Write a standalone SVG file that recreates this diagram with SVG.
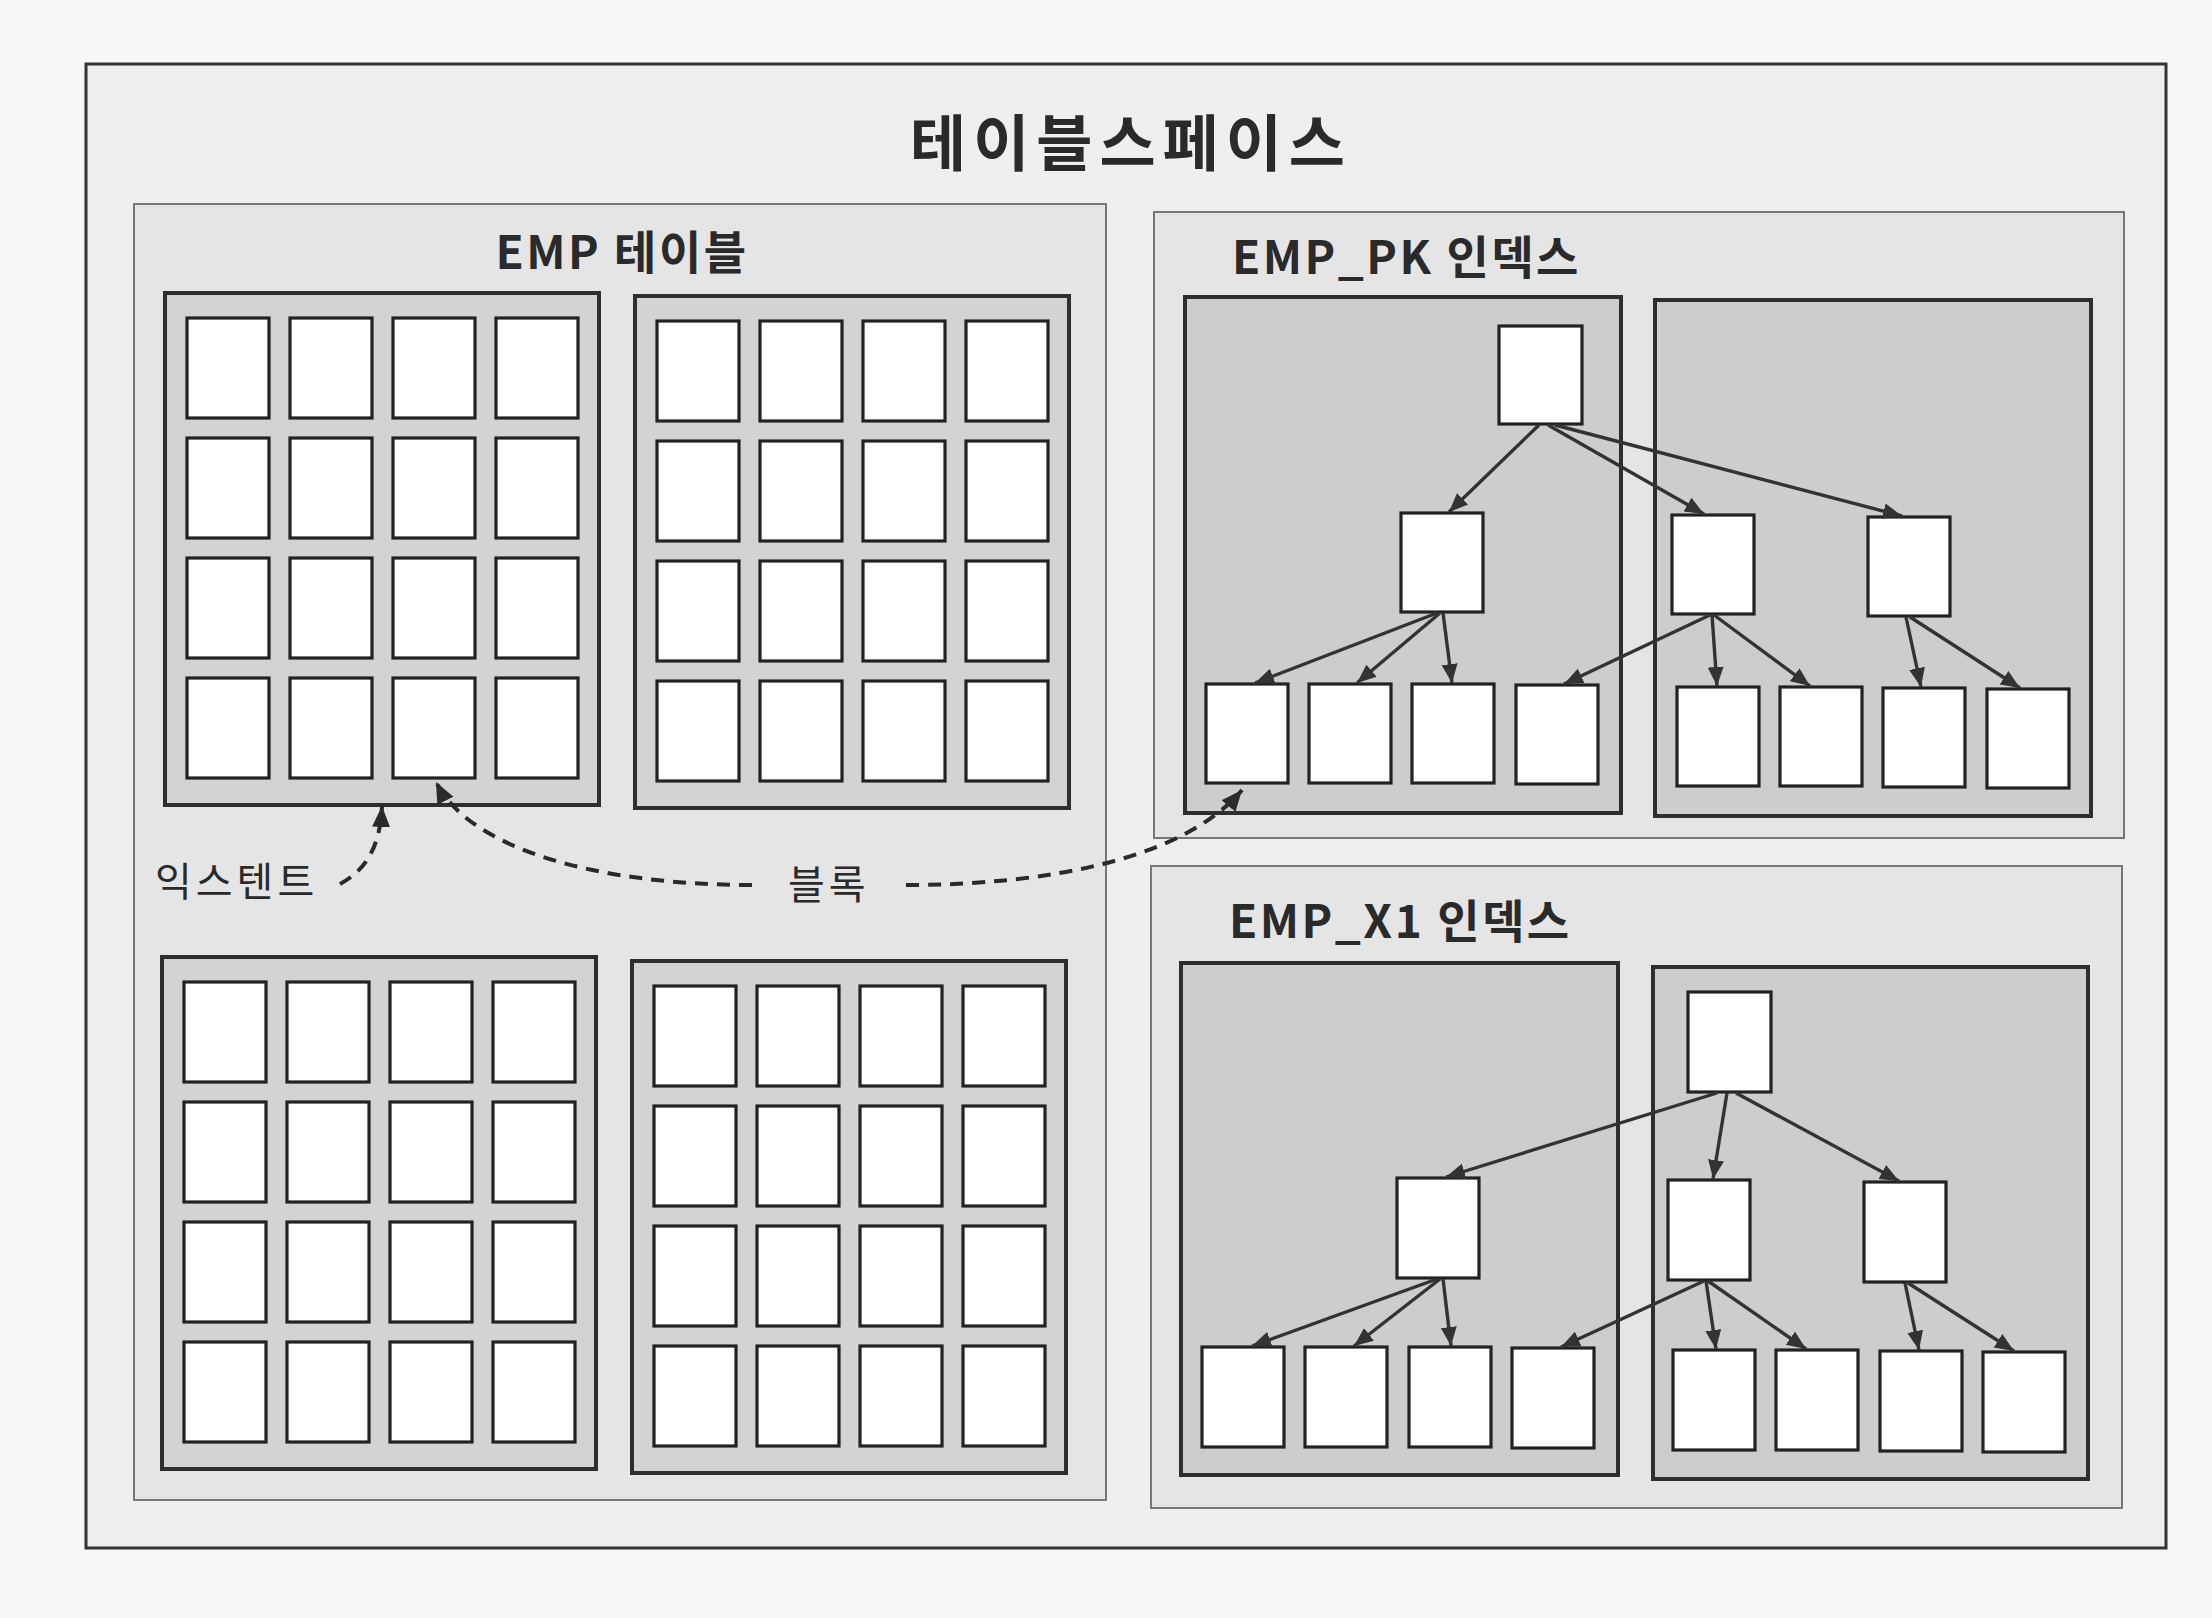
<svg xmlns="http://www.w3.org/2000/svg" width="2212" height="1618" viewBox="0 0 2212 1618">
<style>
  .frame{fill:#efefef;stroke:#333;stroke-width:3}
  .panel{fill:#e5e5e5;stroke:#777;stroke-width:2}
  .ext{fill:#d3d3d3;stroke:#2e2e2e;stroke-width:4}
  .iext{fill:#cdcdcd;stroke:#2e2e2e;stroke-width:4}
  .blk{fill:#ffffff;stroke:#222;stroke-width:3.2}
  .node{fill:#ffffff;stroke:#222;stroke-width:3.2}
  .t{font-family:"Noto Sans CJK KR","Noto Sans",sans-serif;fill:#2a2a2a}
  .title{font-size:61px;font-weight:700;letter-spacing:7px}
  .lbl{font-size:46px;font-weight:700;letter-spacing:2.5px}
  .note{font-size:40px;font-weight:400;letter-spacing:4px}
  .arr{fill:none;stroke:#333;stroke-width:3.4;marker-end:url(#ah)}
  .dash{fill:none;stroke:#2a2a2a;stroke-width:4;stroke-dasharray:13 9;marker-end:url(#ahd)}
</style>
<defs>
  <marker id="ah" markerUnits="userSpaceOnUse" markerWidth="20" markerHeight="18" refX="19" refY="9" orient="auto">
    <path d="M0,1 L19,9 L0,17 Z" fill="#333"/>
  </marker>
  <marker id="ahd" markerUnits="userSpaceOnUse" markerWidth="22" markerHeight="20" refX="21" refY="10" orient="auto">
    <path d="M0,1 L21,10 L0,19 Z" fill="#2a2a2a"/>
  </marker>
  <g id="grid">
    <rect class="blk" x="22" y="25" width="82" height="100"/><rect class="blk" x="125" y="25" width="82" height="100"/><rect class="blk" x="228" y="25" width="82" height="100"/><rect class="blk" x="331" y="25" width="82" height="100"/>
    <rect class="blk" x="22" y="145" width="82" height="100"/><rect class="blk" x="125" y="145" width="82" height="100"/><rect class="blk" x="228" y="145" width="82" height="100"/><rect class="blk" x="331" y="145" width="82" height="100"/>
    <rect class="blk" x="22" y="265" width="82" height="100"/><rect class="blk" x="125" y="265" width="82" height="100"/><rect class="blk" x="228" y="265" width="82" height="100"/><rect class="blk" x="331" y="265" width="82" height="100"/>
    <rect class="blk" x="22" y="385" width="82" height="100"/><rect class="blk" x="125" y="385" width="82" height="100"/><rect class="blk" x="228" y="385" width="82" height="100"/><rect class="blk" x="331" y="385" width="82" height="100"/>
  </g>
</defs>
<rect x="0" y="0" width="2212" height="1618" fill="#f7f7f7"/>

<g id="tablespace">
  <rect class="frame" x="86" y="64" width="2080" height="1484"/>
  <text class="t title" x="1131" y="166" text-anchor="middle">테이블스페이스</text>
</g>

<g id="emp-table">
  <rect class="panel" x="134" y="204" width="972" height="1296"/>
  <text class="t lbl" x="622" y="269" text-anchor="middle">EMP 테이블</text>
  <g id="table-extent-1" transform="translate(165,293)"><rect class="ext" x="0" y="0" width="434" height="512"/><use href="#grid"/></g>
  <g id="table-extent-2" transform="translate(635,296)"><rect class="ext" x="0" y="0" width="434" height="512"/><use href="#grid"/></g>
  <g id="table-extent-3" transform="translate(162,957)"><rect class="ext" x="0" y="0" width="434" height="512"/><use href="#grid"/></g>
  <g id="table-extent-4" transform="translate(632,961)"><rect class="ext" x="0" y="0" width="434" height="512"/><use href="#grid"/></g>
</g>

<g id="emp-pk-index">
  <rect class="panel" x="1154" y="212" width="970" height="626"/>
  <text class="t lbl" x="1232" y="274">EMP_PK 인덱스</text>
  <rect class="iext" x="1185" y="297" width="436" height="516"/>
  <rect class="iext" x="1655" y="300" width="436" height="516"/>
  <g id="pk-root"><rect class="node" x="1499" y="326" width="83" height="98"/></g>
  <g id="pk-b1"><rect class="node" x="1401" y="513" width="82" height="99"/></g>
  <g id="pk-b2"><rect class="node" x="1672" y="515" width="82" height="99"/></g>
  <g id="pk-b3"><rect class="node" x="1868" y="517" width="82" height="99"/></g>
  <g id="pk-l1"><rect class="node" x="1206" y="684" width="82" height="99"/></g>
  <g id="pk-l2"><rect class="node" x="1309" y="684" width="82" height="99"/></g>
  <g id="pk-l3"><rect class="node" x="1412" y="684" width="82" height="99"/></g>
  <g id="pk-l4"><rect class="node" x="1516" y="685" width="82" height="99"/></g>
  <g id="pk-l5"><rect class="node" x="1677" y="687" width="82" height="99"/></g>
  <g id="pk-l6"><rect class="node" x="1780" y="687" width="82" height="99"/></g>
  <g id="pk-l7"><rect class="node" x="1883" y="688" width="82" height="99"/></g>
  <g id="pk-l8"><rect class="node" x="1987" y="689" width="82" height="99"/></g>
</g>

<g id="emp-x1-index">
  <rect class="panel" x="1151" y="866" width="971" height="642"/>
  <text class="t lbl" x="1229" y="938">EMP_X1 인덱스</text>
  <rect class="iext" x="1181" y="963" width="437" height="512"/>
  <rect class="iext" x="1653" y="967" width="435" height="512"/>
  <g id="x1-root"><rect class="node" x="1688" y="992" width="83" height="100"/></g>
  <g id="x1-b1"><rect class="node" x="1397" y="1178" width="82" height="100"/></g>
  <g id="x1-b2"><rect class="node" x="1668" y="1180" width="82" height="100"/></g>
  <g id="x1-b3"><rect class="node" x="1864" y="1182" width="82" height="100"/></g>
  <g id="x1-l1"><rect class="node" x="1202" y="1347" width="82" height="100"/></g>
  <g id="x1-l2"><rect class="node" x="1305" y="1347" width="82" height="100"/></g>
  <g id="x1-l3"><rect class="node" x="1409" y="1347" width="82" height="100"/></g>
  <g id="x1-l4"><rect class="node" x="1512" y="1348" width="82" height="100"/></g>
  <g id="x1-l5"><rect class="node" x="1673" y="1350" width="82" height="100"/></g>
  <g id="x1-l6"><rect class="node" x="1776" y="1350" width="82" height="100"/></g>
  <g id="x1-l7"><rect class="node" x="1880" y="1351" width="82" height="100"/></g>
  <g id="x1-l8"><rect class="node" x="1983" y="1352" width="82" height="100"/></g>
</g>

<g id="labels">
  <text class="t note" x="155" y="896">익스텐트</text>
  <text class="t note" x="788" y="899">블록</text>
</g>

<g id="connectors">
  <path class="arr" d="M1539,425 L1449,512"/>
  <path class="arr" d="M1548,425 L1704,514"/>
  <path class="arr" d="M1555,425 L1902,516"/>
  <path class="arr" d="M1437,613 L1255,683"/>
  <path class="arr" d="M1440,613 L1357,683"/>
  <path class="arr" d="M1443,613 L1452,683"/>
  <path class="arr" d="M1710,615 L1564,684"/>
  <path class="arr" d="M1712,615 L1717,686"/>
  <path class="arr" d="M1714,615 L1810,686"/>
  <path class="arr" d="M1906,617 L1921,687"/>
  <path class="arr" d="M1910,617 L2020,688"/>

  <path class="arr" d="M1717,1093 L1446,1177"/>
  <path class="arr" d="M1727,1093 L1713,1179"/>
  <path class="arr" d="M1736,1093 L1899,1181"/>
  <path class="arr" d="M1437,1279 L1252,1346"/>
  <path class="arr" d="M1440,1279 L1354,1346"/>
  <path class="arr" d="M1443,1279 L1451,1346"/>
  <path class="arr" d="M1704,1281 L1561,1347"/>
  <path class="arr" d="M1706,1281 L1716,1349"/>
  <path class="arr" d="M1708,1281 L1806,1349"/>
  <path class="arr" d="M1905,1283 L1919,1350"/>
  <path class="arr" d="M1908,1283 L2014,1351"/>

  <path class="dash" d="M340,884 C362,872 380,852 382,806"/>
  <path class="dash" d="M752,885 C600,885 470,850 436,782"/>
  <path class="dash" d="M906,885 C1050,885 1185,858 1242,790"/>
</g>
</svg>
